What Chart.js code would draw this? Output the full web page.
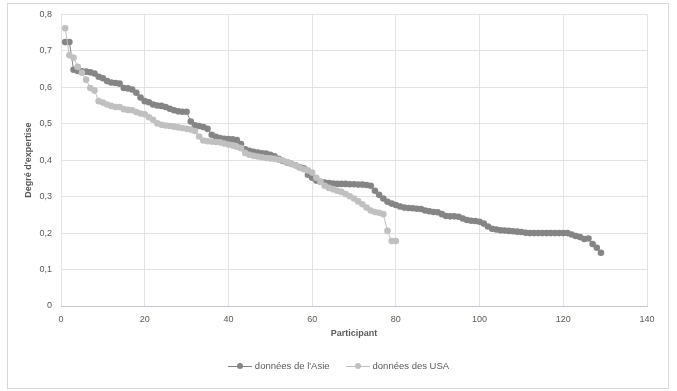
<!DOCTYPE html>
<html>
<head>
<meta charset="utf-8">
<script src="https://cdn.jsdelivr.net/npm/chart.js@4"></script>
<style>
  body { margin: 0; background: #fff; }
  #wrap { position: relative; width: 677px; height: 391px; }
  #frame { position: absolute; left: 7px; top: 3px; width: 660px; height: 384px; border: 1px solid #d9d9d9; }
  #legend { position: absolute; left: 0; top: 360px; width: 677px; text-align: center;
            font: 9.5px "Liberation Sans", sans-serif; color: #595959; }
  .item { display: inline-block; margin: 0 8px; }
  .mark { display: inline-block; position: relative; width: 24px; height: 1px; vertical-align: middle; margin-right: 3px; }
  .mark i { position: absolute; left: 9px; top: -3px; width: 6px; height: 6px; border-radius: 50%; }
</style>
</head>
<body>
<div id="wrap">
  <div id="frame"></div>
  <canvas id="c" width="677" height="391"></canvas>
  <div id="legend"></div>
</div>
<script>
// valeurs (participants 1..n)
const asiaValues = [
  0.724, 0.724, 0.648, 0.645, 0.644, 0.643, 0.641, 0.638, 0.629, 0.625,
  0.617, 0.613, 0.612, 0.610, 0.598, 0.597, 0.594, 0.585, 0.572, 0.562,
  0.559, 0.553, 0.550, 0.549, 0.546, 0.541, 0.537, 0.534, 0.533, 0.533,
  0.506, 0.496, 0.494, 0.491, 0.486, 0.470, 0.464, 0.461, 0.459, 0.458,
  0.457, 0.455, 0.444, 0.430, 0.426, 0.423, 0.421, 0.419, 0.418, 0.415,
  0.411, 0.404, 0.398, 0.394, 0.390, 0.386, 0.381, 0.378, 0.360, 0.352,
  0.344, 0.341, 0.339, 0.337, 0.336, 0.335, 0.335, 0.335, 0.334, 0.334,
  0.333, 0.333, 0.332, 0.330, 0.316, 0.305, 0.295, 0.286, 0.281, 0.277,
  0.273, 0.270, 0.269, 0.268, 0.267, 0.266, 0.262, 0.260, 0.258, 0.257,
  0.252, 0.247, 0.246, 0.246, 0.245, 0.240, 0.236, 0.234, 0.233, 0.231,
  0.226, 0.218, 0.212, 0.210, 0.208, 0.207, 0.206, 0.205, 0.204, 0.203,
  0.201, 0.200, 0.200, 0.200, 0.200, 0.200, 0.200, 0.200, 0.200, 0.200,
  0.200, 0.196, 0.192, 0.189, 0.184, 0.185, 0.170, 0.160, 0.146
];
const usaValues = [
  0.762, 0.688, 0.681, 0.656, 0.640, 0.621, 0.598, 0.591, 0.562, 0.558,
  0.553, 0.549, 0.546, 0.546, 0.540, 0.538, 0.537, 0.532, 0.528, 0.526,
  0.518, 0.511, 0.501, 0.497, 0.495, 0.494, 0.492, 0.490, 0.488, 0.486,
  0.484, 0.480, 0.465, 0.454, 0.452, 0.451, 0.450, 0.449, 0.446, 0.443,
  0.440, 0.437, 0.433, 0.420, 0.415, 0.412, 0.410, 0.408, 0.406, 0.405,
  0.404, 0.401, 0.399, 0.395, 0.390, 0.386, 0.380, 0.375, 0.372, 0.366,
  0.352, 0.340, 0.330, 0.324, 0.320, 0.316, 0.313, 0.307, 0.301, 0.295,
  0.287, 0.279, 0.270, 0.262, 0.258, 0.256, 0.252, 0.206, 0.178, 0.178
];
const seriesNames = ["données de l'Asie", "données des USA"];
const seriesColors = ["#858585", "#c0c0c0"];
const xTicks = [0, 20, 40, 60, 80, 100, 120, 140];
const yTicks = [0, 0.1, 0.2, 0.3, 0.4, 0.5, 0.6, 0.7, 0.8];

const toPoints = vals => vals.map((v, i) => ({ x: i + 1, y: v }));
const textColor = "#595959";
const gridColor = "#dfe3ea";

// legende maison : trait + rond comme dans Excel
const leg = document.getElementById("legend");
seriesNames.forEach((name, i) => {
  const s = document.createElement("span");
  s.className = "item";
  s.innerHTML = '<span class="mark" style="background:' + seriesColors[i] + '"><i style="background:' +
    seriesColors[i] + '"></i></span>' + name;
  leg.appendChild(s);
});

new Chart(document.getElementById("c"), {
  type: "line",
  data: {
    datasets: [
      { label: seriesNames[0], data: toPoints(asiaValues), borderColor: seriesColors[0],
        backgroundColor: seriesColors[0], borderWidth: 1, pointRadius: 3.3, pointBorderWidth: 0, order: 1 },
      { label: seriesNames[1], data: toPoints(usaValues), borderColor: seriesColors[1],
        backgroundColor: seriesColors[1], borderWidth: 1, pointRadius: 3.3, pointBorderWidth: 0, order: 0 }
    ]
  },
  options: {
    responsive: false,
    animation: false,
    layout: { padding: { left: 23, right: 30, top: 12, bottom: 51 } },
    plugins: { legend: { display: false }, tooltip: { enabled: false } },
    scales: {
      x: {
        type: "linear", min: 0, max: 140,
        afterBuildTicks: s => { s.ticks = xTicks.map(v => ({ value: v })); },
        afterFit: s => { s.height = 34; },
        grid: { color: gridColor, drawTicks: false },
        border: { color: "#c3c9d4" },
        ticks: { color: textColor, font: { family: "Liberation Sans", size: 9 }, padding: 8 },
        title: { display: true, text: "Participant", color: textColor,
                 font: { family: "Liberation Sans", size: 9, weight: "bold" }, padding: { top: 0, bottom: 1 } }
      },
      y: {
        min: 0, max: 0.8,
        afterBuildTicks: s => { s.ticks = yTicks.map(v => ({ value: v })); },
        afterFit: s => { s.width = 38; },
        grid: { color: gridColor, drawTicks: false },
        border: { display: false },
        ticks: { color: textColor, font: { family: "Liberation Sans", size: 9 }, padding: 9,
                 callback: v => v === 0 ? "0" : v.toFixed(1).replace(".", ",") },
        title: { display: true, text: "Degré d'expertise", color: textColor,
                 font: { family: "Liberation Sans", size: 9, weight: "bold" }, padding: 0 }
      }
    }
  }
});
</script>
</body>
</html>
